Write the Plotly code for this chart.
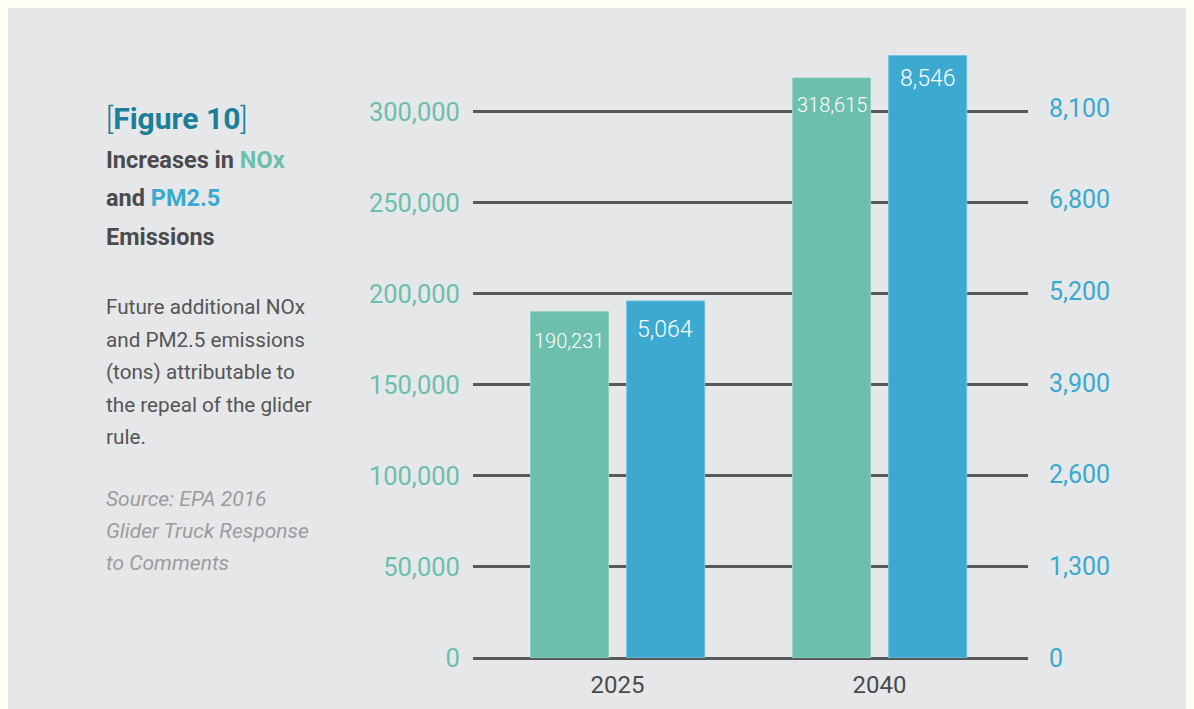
import plotly.graph_objects as go

# ---------------- data ----------------
years = ["2025", "2040"]
nox_tons = [190231, 318615]
pm25_tons = [5064, 8546]
left_tick_vals = [0, 50000, 100000, 150000, 200000, 250000, 300000]
right_tick_vals = [0, 1300, 2600, 3900, 5200, 6500, 7800]
right_tick_text = ["0", "1,300", "2,600", "3,900", "5,200", "6,800", "8,100"]

heading_lines = [
    "Increases in <span style='color:#6cbfab'>NOx</span>",
    "and <span style='color:#3aa9d0'>PM2.5</span>",
    "Emissions",
]
body_lines = [
    "Future additional NOx",
    "and PM2.5 emissions",
    "(tons) attributable to",
    "the repeal of the glider",
    "rule.",
]
source_lines = ["Source: EPA 2016", "Glider Truck Response", "to Comments"]

# ---------------- style ----------------
FONT = "Roboto, sans-serif"
GREEN = "#6dbfad"
BLUE = "#3ba9d0"
GREEN_TXT = "#6cbfab"
BLUE_TXT = "#3aa9d0"
GRID = "#58595b"
PANEL = "#e6e7e9"
CREAM = "#fefef4"
DARK = "#4b4b4d"

# figure is placed by the page with an 8px body margin; coordinates below are figure pixels
W, H = 1194, 709
L, R, T, B = 465, 1020, 31, 650  # plot area in figure pixels


def px_x(p):
    return (p - L) / (R - L)


def px_y(p):
    return (B - p) / (B - T)


fig = go.Figure()

fig.add_trace(go.Bar(
    x=years, y=nox_tons, name="NOx", yaxis="y",
    marker=dict(color=GREEN, line=dict(color="#93d2c3", width=1)),
    width=0.298, offset=-0.332, hoverinfo="x+y",
))
fig.add_trace(go.Bar(
    x=years, y=pm25_tons, name="PM2.5", yaxis="y2",
    marker=dict(color=BLUE, line=dict(color="#72c2e0", width=1)),
    width=0.298, offset=0.035, hoverinfo="x+y",
))

annotations = []
nox_shift = [-29, -27]
pm_shift = [-29, -23]
for i in range(len(years)):
    annotations.append(dict(
        x=i, y=nox_tons[i], xref="x", yref="y", text=f"{nox_tons[i]:,}",
        showarrow=False, xshift=-48, yshift=nox_shift[i], yanchor="middle",
        font=dict(family=FONT, size=20, color="white", weight=300),
    ))
    annotations.append(dict(
        x=i, y=pm25_tons[i], xref="x", yref="y2", text=f"{pm25_tons[i]:,}",
        showarrow=False, xshift=48, yshift=pm_shift[i], yanchor="middle",
        font=dict(family=FONT, size=23, color="white", weight=300),
    ))

TX = px_x(96)
annotations.append(dict(
    x=TX, y=px_y(110), xref="paper", yref="paper", xanchor="left", yanchor="middle",
    text="<span style='font-weight:300'>[</span><b>Figure 10</b><span style='font-weight:300'>]</span>",
    showarrow=False, font=dict(family=FONT, size=30, color="#1b7f99"),
))
for yy, line in zip([152, 190, 229], heading_lines):
    annotations.append(dict(
        x=TX, y=px_y(yy), xref="paper", yref="paper", xanchor="left", yanchor="middle",
        text=f"<b>{line}</b>", showarrow=False,
        font=dict(family=FONT, size=23.5, color=DARK),
    ))
for yy, line in zip([299, 331.5, 364, 396.5, 429], body_lines):
    annotations.append(dict(
        x=TX, y=px_y(yy), xref="paper", yref="paper", xanchor="left", yanchor="middle",
        text=line, showarrow=False,
        font=dict(family=FONT, size=20.7, color="#555557"),
    ))
for yy, line in zip([491, 523, 555], source_lines):
    annotations.append(dict(
        x=TX, y=px_y(yy), xref="paper", yref="paper", xanchor="left", yanchor="middle",
        text=f"<i>{line}</i>", showarrow=False,
        font=dict(family=FONT, size=21, color="#9c9c9e"),
    ))

fig.update_layout(
    width=W, height=H, autosize=False,
    margin=dict(l=L, r=W - R, t=T, b=H - B, pad=0),
    paper_bgcolor=PANEL,
    plot_bgcolor="rgba(0,0,0,0)",
    showlegend=False,
    barmode="overlay",
    font=dict(family=FONT),
    annotations=annotations,
    xaxis=dict(
        type="category", range=[-0.5515, 1.5668], showgrid=False, zeroline=False,
        showline=False, ticks="outside", ticklen=5, tickcolor="rgba(0,0,0,0)",
        automargin=False,
        tickfont=dict(family=FONT, size=24, color=DARK), fixedrange=True,
    ),
    yaxis=dict(
        range=[0, 340000], tickvals=left_tick_vals, tickformat=",",
        showgrid=True, gridcolor=GRID, gridwidth=2.5,
        zeroline=True, zerolinecolor=GRID, zerolinewidth=2.5,
        showline=False, ticks="outside", ticklen=7, tickcolor="rgba(0,0,0,0)",
        automargin=False,
        tickfont=dict(family=FONT, size=25.5, color=GREEN_TXT), fixedrange=True,
    ),
    yaxis2=dict(
        range=[0, 8780], tickvals=right_tick_vals, ticktext=right_tick_text,
        overlaying="y", side="right", showgrid=False, zeroline=False, showline=False,
        ticks="outside", ticklen=15, tickcolor="rgba(0,0,0,0)", automargin=False,
        tickfont=dict(family=FONT, size=25, color=BLUE_TXT), fixedrange=True,
    ),
)

fig.write_html(
    "out.html",
    post_script="document.body.style.background='%s';" % CREAM,
)
